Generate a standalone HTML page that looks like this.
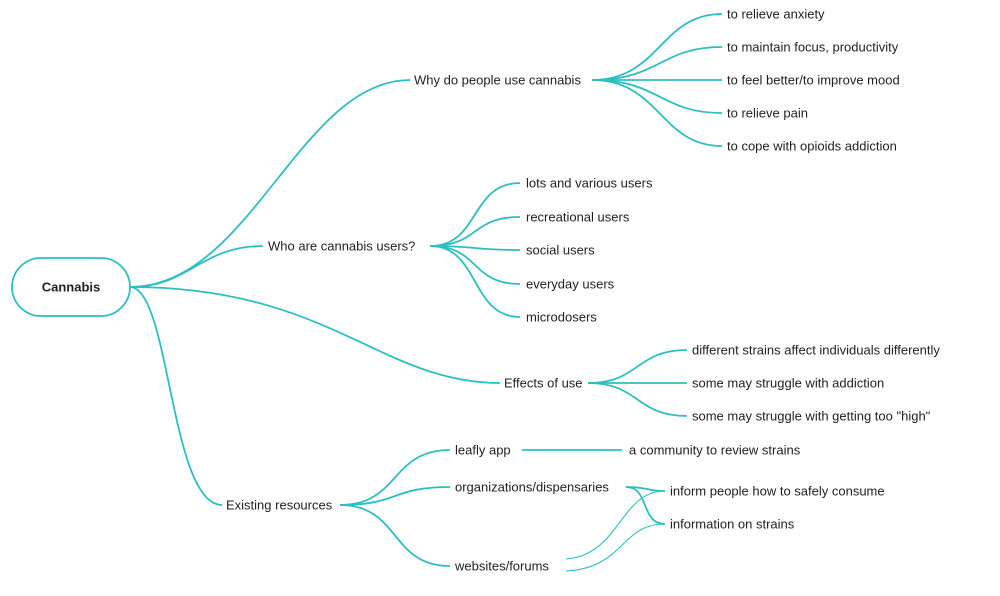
<!DOCTYPE html>
<html><head><meta charset="utf-8"><style>
body{margin:0;background:#fff}
svg text{font-family:"Liberation Sans",sans-serif;font-size:13px;fill:#222;dominant-baseline:central}
</style></head><body>
<svg width="1000" height="591" viewBox="0 0 1000 591" xmlns="http://www.w3.org/2000/svg">
<g fill="none" stroke="#2dbfc0" stroke-width="1.8">
<rect x="12" y="258" width="118" height="58" rx="29"/>
<path d="M130 287 C250 287 300 80 410 80"/>
<path d="M130 287 C190 287 200 246 263 246"/>
<path d="M130 287 C330 287 380 383 500 383"/>
<path d="M130 287 C170 287 170 505 222 505"/>
<path d="M592 80 C660 80 660 14 722 14"/>
<path d="M592 80 C660 80 660 47 722 47"/>
<path d="M592 80 L722 80"/>
<path d="M592 80 C660 80 660 113 722 113"/>
<path d="M592 80 C660 80 660 146 722 146"/>
<path d="M430 246 C480 246 470 183 520 183"/>
<path d="M430 246 C480 246 470 217 520 217"/>
<path d="M430 246 C480 246 470 250 520 250"/>
<path d="M430 246 C480 246 470 284 520 284"/>
<path d="M430 246 C480 246 470 317 520 317"/>
<path d="M588 383 C640 383 635 350 687 350"/>
<path d="M588 383 L687 383"/>
<path d="M588 383 C640 383 635 416 687 416"/>
<path d="M340 505 C400 505 390 450 450 450"/>
<path d="M340 505 C400 505 390 487 450 487"/>
<path d="M340 505 C400 505 390 566 450 566"/>
<path d="M522 450 L622 450"/>
<path d="M626 487 C650 487 645 491 665 491"/>
<path d="M626 487 C650 487 640 524 665 524"/>
</g>
<g fill="none" stroke="#2dbfc0" stroke-width="1.1">
<path d="M566 559 C620 555 620 491 665 491"/>
<path d="M566 571 C625 568 620 524 665 524"/>
</g>
<text x="71" y="287" text-anchor="middle" font-weight="bold">Cannabis</text>
<text x="414" y="80">Why do people use cannabis</text>
<text x="268" y="246">Who are cannabis users?</text>
<text x="504" y="383">Effects of use</text>
<text x="226" y="505">Existing resources</text>
<text x="727" y="14">to relieve anxiety</text>
<text x="727" y="47">to maintain focus, productivity</text>
<text x="727" y="80">to feel better/to improve mood</text>
<text x="727" y="113">to relieve pain</text>
<text x="727" y="146">to cope with opioids addiction</text>
<text x="526" y="183">lots and various users</text>
<text x="526" y="217">recreational users</text>
<text x="526" y="250">social users</text>
<text x="526" y="284">everyday users</text>
<text x="526" y="317">microdosers</text>
<text x="692" y="350">different strains affect individuals differently</text>
<text x="692" y="383">some may struggle with addiction</text>
<text x="692" y="416">some may struggle with getting too "high"</text>
<text x="455" y="450">leafly app</text>
<text x="629" y="450">a community to review strains</text>
<text x="455" y="487">organizations/dispensaries</text>
<text x="455" y="566">websites/forums</text>
<text x="670" y="491">inform people how to safely consume</text>
<text x="670" y="524">information on strains</text>
</svg>
</body></html>
